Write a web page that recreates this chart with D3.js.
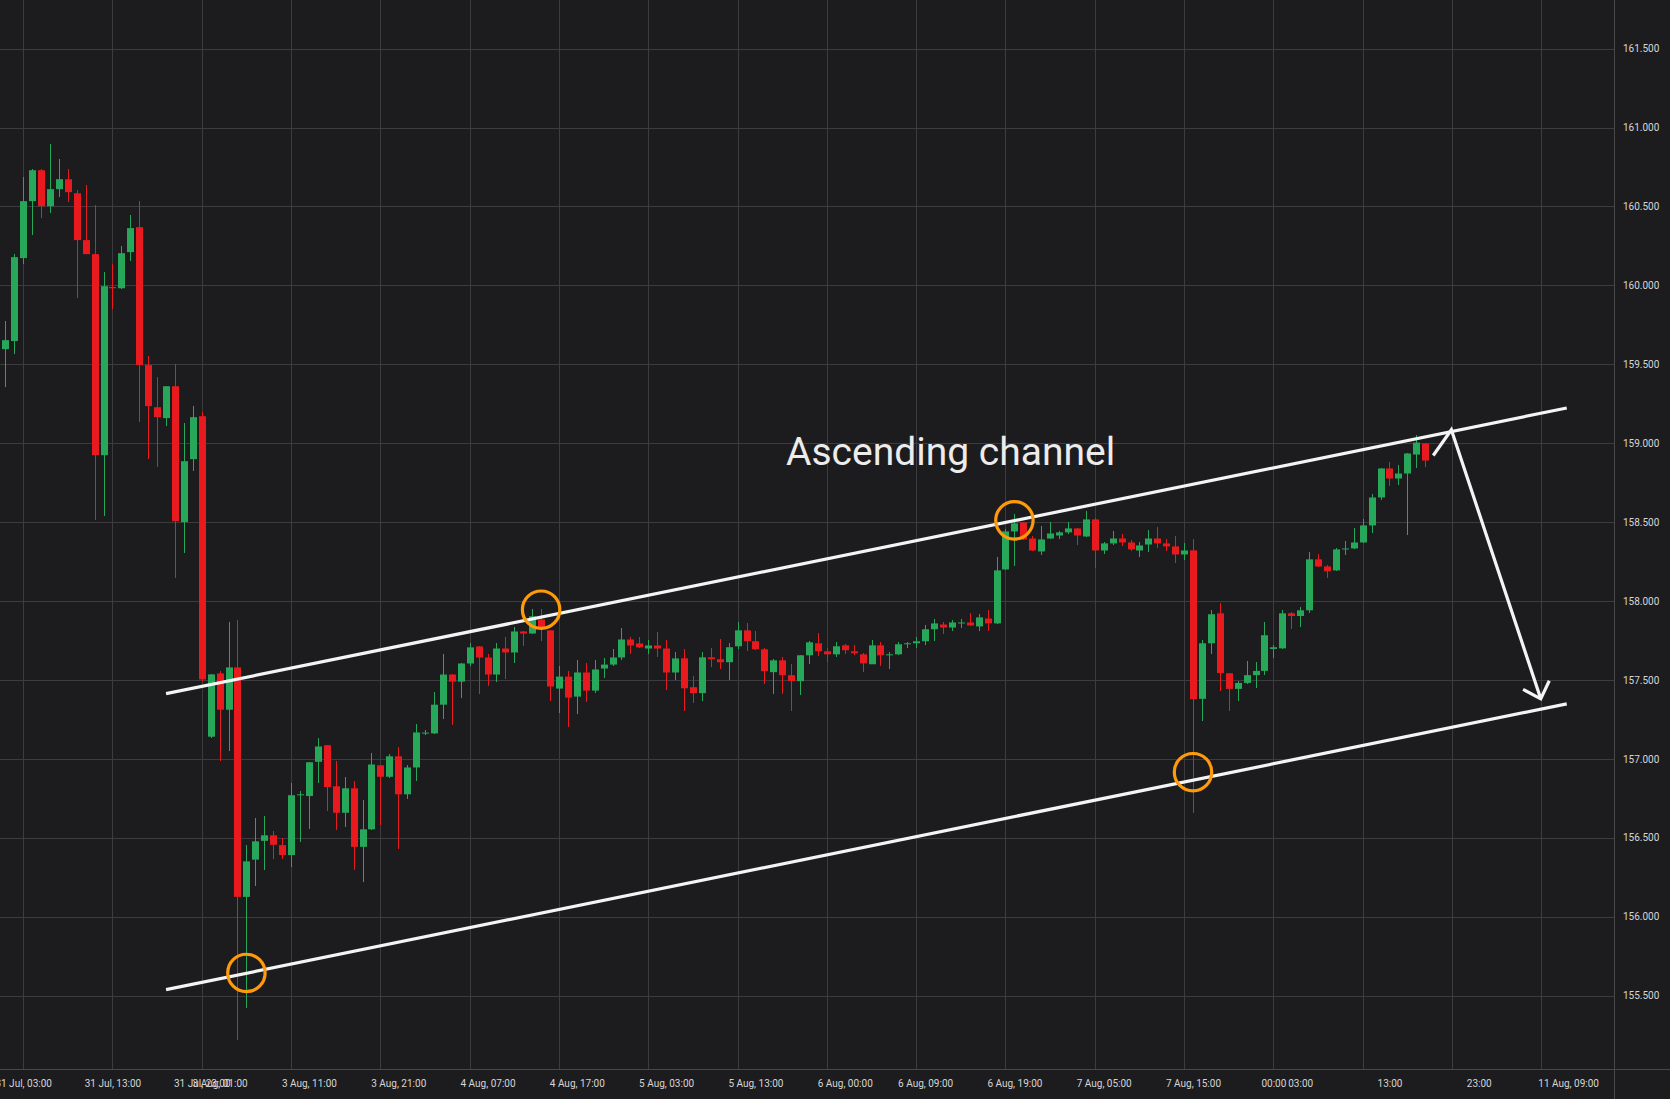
<!DOCTYPE html>
<html lang="en">
<head>
    <meta charset="UTF-8">
    <title>Ascending channel</title>
    <script src="https://d3js.org/d3.v7.min.js"></script>
    <style>
        html, body { margin: 0; padding: 0; background: #1c1c1e; }
        svg { display: block; }
    </style>
</head>
<body>
    <div id="chart"></div>

    <script>
        // Hourly candles, index 0..159
        var opens = [
            159.596, 159.647, 160.173, 160.534, 160.730, 160.502, 160.610, 160.673, 160.584, 160.287,
            160.198, 158.924, 159.990, 159.982, 160.211, 160.369, 159.495, 159.228, 159.159, 159.361,
            158.500, 158.899, 159.171, 157.140, 157.541, 157.311, 157.579, 156.125, 156.361, 156.480,
            156.515, 156.453, 156.390, 156.770, 156.764, 156.981, 157.086, 156.826, 156.658, 156.813,
            156.442, 156.553, 156.959, 156.886, 157.016, 156.775, 156.945, 157.160, 157.161, 157.343,
            157.534, 157.489, 157.604, 157.712, 157.642, 157.534, 157.699, 157.674, 157.807, 157.794,
            157.883, 157.814, 157.445, 157.521, 157.394, 157.547, 157.432, 157.572, 157.597, 157.642,
            157.756, 157.731, 157.699, 157.718, 157.699, 157.547, 157.637, 157.454, 157.416, 157.643,
            157.631, 157.612, 157.713, 157.814, 157.745, 157.694, 157.549, 157.624, 157.530, 157.492,
            157.656, 157.732, 157.681, 157.662, 157.719, 157.681, 157.662, 157.599, 157.719, 157.656,
            157.662, 157.726, 157.732, 157.745, 157.821, 157.851, 157.832, 157.858, 157.864, 157.839,
            157.889, 157.858, 158.200, 158.441, 158.498, 158.396, 158.314, 158.396, 158.415, 158.435,
            158.460, 158.409, 158.517, 158.320, 158.365, 158.396, 158.371, 158.320, 158.358, 158.396,
            158.365, 158.346, 158.295, 158.321, 157.380, 157.732, 157.922, 157.542, 157.443, 157.481,
            157.530, 157.557, 157.696, 157.700, 157.922, 157.905, 157.941, 158.264, 158.219, 158.194,
            158.327, 158.333, 158.371, 158.479, 158.656, 158.840, 158.776, 158.808, 158.928, 158.998
        ];
        var highs = [
            159.773, 160.202, 160.686, 160.737, 160.735, 160.895, 160.800, 160.737, 160.604, 160.635,
            160.508, 160.084, 160.135, 160.249, 160.445, 160.534, 159.552, 159.418, 159.365, 159.501,
            159.127, 159.235, 159.197, 157.540, 157.557, 157.866, 157.877, 156.453, 156.623, 156.637,
            156.542, 156.496, 156.845, 156.799, 156.982, 157.129, 157.090, 156.983, 156.886, 156.859,
            156.742, 157.035, 156.962, 157.029, 157.075, 156.959, 157.219, 157.180, 157.426, 157.661,
            157.538, 157.610, 157.737, 157.715, 157.667, 157.731, 157.769, 157.833, 157.810, 157.947,
            157.947, 157.815, 157.585, 157.559, 157.629, 157.610, 157.623, 157.636, 157.693, 157.826,
            157.769, 157.769, 157.756, 157.801, 157.750, 157.674, 157.694, 157.523, 157.675, 157.700,
            157.757, 157.732, 157.865, 157.859, 157.808, 157.700, 157.631, 157.643, 157.599, 157.660,
            157.745, 157.795, 157.700, 157.738, 157.726, 157.719, 157.669, 157.751, 157.738, 157.675,
            157.738, 157.738, 157.770, 157.846, 157.884, 157.870, 157.877, 157.883, 157.927, 157.915,
            157.940, 158.276, 158.454, 158.549, 158.500, 158.409, 158.473, 158.498, 158.441, 158.498,
            158.462, 158.568, 158.523, 158.377, 158.441, 158.422, 158.384, 158.377, 158.447, 158.466,
            158.390, 158.409, 158.365, 158.390, 157.751, 157.941, 157.985, 157.544, 157.494, 157.618,
            157.612, 157.865, 157.719, 157.941, 157.928, 157.960, 158.308, 158.295, 158.226, 158.333,
            158.378, 158.460, 158.517, 158.675, 158.846, 158.878, 158.865, 158.941, 159.055, 159.004
        ];
        var lows = [
            159.357, 159.564, 160.135, 160.318, 160.426, 160.458, 160.559, 160.527, 159.919, 160.198,
            158.512, 158.538, 159.849, 159.976, 160.154, 159.133, 158.899, 158.848, 159.108, 158.145,
            158.303, 158.823, 157.490, 157.130, 156.986, 157.051, 155.218, 155.421, 156.196, 156.296,
            156.366, 156.366, 156.312, 156.474, 156.556, 156.848, 156.669, 156.550, 156.569, 156.296,
            156.220, 156.547, 156.583, 156.878, 156.428, 156.745, 156.859, 157.150, 157.155, 157.250,
            157.216, 157.383, 157.585, 157.413, 157.464, 157.489, 157.508, 157.604, 157.712, 157.788,
            157.744, 157.369, 157.292, 157.203, 157.286, 157.362, 157.419, 157.515, 157.591, 157.629,
            157.667, 157.700, 157.667, 157.648, 157.439, 157.502, 157.302, 157.352, 157.365, 157.580,
            157.567, 157.498, 157.694, 157.681, 157.688, 157.473, 157.409, 157.409, 157.302, 157.403,
            157.599, 157.650, 157.612, 157.643, 157.662, 157.656, 157.549, 157.599, 157.586, 157.567,
            157.656, 157.700, 157.700, 157.719, 157.745, 157.788, 157.813, 157.826, 157.843, 157.813,
            157.813, 157.855, 158.198, 158.219, 158.385, 158.314, 158.289, 158.390, 158.396, 158.422,
            158.358, 158.407, 158.206, 158.301, 158.358, 158.346, 158.314, 158.276, 158.308, 158.333,
            158.314, 158.238, 158.257, 156.655, 157.239, 157.662, 157.430, 157.303, 157.367, 157.475,
            157.449, 157.532, 157.639, 157.694, 157.823, 157.835, 157.922, 158.213, 158.143, 158.188,
            158.289, 158.330, 158.368, 158.428, 158.637, 158.726, 158.732, 158.416, 158.840, 158.852
        ];
        var closes = [
            159.653, 160.179, 160.534, 160.730, 160.502, 160.610, 160.673, 160.591, 160.287, 160.198,
            158.924, 159.995, 159.982, 160.204, 160.363, 159.495, 159.235, 159.165, 159.361, 158.506,
            158.886, 159.165, 157.503, 157.535, 157.311, 157.579, 156.125, 156.350, 156.477, 156.515,
            156.455, 156.390, 156.769, 156.775, 156.978, 157.078, 156.821, 156.658, 156.813, 156.442,
            156.553, 156.964, 156.886, 157.016, 156.775, 156.945, 157.167, 157.166, 157.343, 157.534,
            157.489, 157.604, 157.706, 157.642, 157.534, 157.699, 157.674, 157.807, 157.794, 157.903,
            157.833, 157.458, 157.521, 157.388, 157.547, 157.432, 157.566, 157.597, 157.642, 157.756,
            157.718, 157.706, 157.718, 157.699, 157.547, 157.636, 157.447, 157.416, 157.643, 157.631,
            157.612, 157.707, 157.814, 157.745, 157.694, 157.555, 157.624, 157.530, 157.492, 157.656,
            157.738, 157.681, 157.662, 157.713, 157.688, 157.669, 157.605, 157.719, 157.656, 157.662,
            157.726, 157.732, 157.745, 157.821, 157.858, 157.832, 157.864, 157.864, 157.845, 157.896,
            157.858, 158.194, 158.441, 158.492, 158.390, 158.320, 158.390, 158.428, 158.435, 158.460,
            158.415, 158.517, 158.320, 158.365, 158.396, 158.371, 158.327, 158.352, 158.396, 158.365,
            158.346, 158.295, 158.320, 157.378, 157.732, 157.916, 157.544, 157.443, 157.481, 157.530,
            157.557, 157.783, 157.707, 157.922, 157.905, 157.941, 158.264, 158.219, 158.188, 158.327,
            158.333, 158.371, 158.479, 158.656, 158.840, 158.776, 158.808, 158.935, 159.004, 158.890
        ];

        // Axis ticks
        var priceTicks = [155.5, 156.0, 156.5, 157.0, 157.5, 158.0, 158.5, 159.0, 159.5, 160.0, 160.5, 161.0, 161.5];
        var gridIndices = d3.range(2, 180, 10);
        var timeTickIndex = [2, 12, 22, 24, 34, 44, 54, 64, 74, 84, 94, 103, 113, 123, 133, 142, 145, 155, 165, 175];
        var timeTickLabels = [
            "31 Jul, 03:00", "31 Jul, 13:00", "31 Jul, 23:00", "3 Aug, 01:00", "3 Aug, 11:00",
            "3 Aug, 21:00", "4 Aug, 07:00", "4 Aug, 17:00", "5 Aug, 03:00", "5 Aug, 13:00",
            "6 Aug, 00:00", "6 Aug, 09:00", "6 Aug, 19:00", "7 Aug, 05:00", "7 Aug, 15:00",
            "00:00", "03:00", "13:00", "23:00", "11 Aug, 09:00"
        ];

        // Annotations, in [candle index, price]
        var upperChannel = [[18.0, 157.413], [174.85, 159.223]];
        var lowerChannel = [[18.0, 155.537], [174.85, 157.348]];
        var touchPoints = [[27, 155.643], [60, 157.945], [113, 158.511], [133, 156.915]];
        var arrowPath = [[159.9, 158.922], [161.93, 159.085], [171.94, 157.380]];
        var noteText = "Ascending channel";
        var notePos = [105.85, 158.862];

        var width = 1670, height = 1099;
        var plotRight = 1614, plotBottom = 1069;

        var svg = d3.select("#chart")
            .append("svg")
            .attr("width", width)
            .attr("height", height)
            .style("font-family", "Roboto, sans-serif");

        svg.append("rect")
            .attr("width", width)
            .attr("height", height)
            .attr("fill", "#1c1c1e");

        var x = d3.scaleLinear()
            .domain([0, 159])
            .range([5.3, 1425.2]);

        var y = d3.scaleLinear()
            .domain([155.5, 161.5])
            .range([995.5, 48.7]);

        // Grid
        var grid = svg.append("g")
            .attr("stroke", "#3c3c3f")
            .attr("stroke-width", 1)
            .attr("shape-rendering", "crispEdges");

        grid.selectAll(".vgrid")
            .data(gridIndices.filter(function (d) { return x(d) < plotRight; }))
            .enter()
            .append("line")
            .attr("x1", function (d) { return Math.round(x(d)) + 0.5; })
            .attr("x2", function (d) { return Math.round(x(d)) + 0.5; })
            .attr("y1", 0)
            .attr("y2", plotBottom);

        grid.selectAll(".hgrid")
            .data(priceTicks)
            .enter()
            .append("line")
            .attr("x1", 0)
            .attr("x2", plotRight)
            .attr("y1", function (d) { return Math.round(y(d)) + 0.5; })
            .attr("y2", function (d) { return Math.round(y(d)) + 0.5; });

        // Separators
        svg.append("line")
            .attr("x1", plotRight + 0.5).attr("x2", plotRight + 0.5)
            .attr("y1", 0).attr("y2", height)
            .attr("stroke", "#48484b")
            .attr("shape-rendering", "crispEdges");

        svg.append("line")
            .attr("x1", 0).attr("x2", width)
            .attr("y1", plotBottom + 0.5).attr("y2", plotBottom + 0.5)
            .attr("stroke", "#48484b")
            .attr("shape-rendering", "crispEdges");

        // Candles
        var up = "#27a75a", down = "#e81a1d";
        var bodyWidth = 7;

        var candles = svg.append("g")
            .selectAll("g")
            .data(d3.range(opens.length))
            .enter()
            .append("g")
            .attr("fill", function (i) { return closes[i] >= opens[i] ? up : down; })
            .attr("stroke", function (i) { return closes[i] >= opens[i] ? up : down; });

        candles.append("line")
            .attr("x1", function (i) { return Math.round(x(i)) + 0.5; })
            .attr("x2", function (i) { return Math.round(x(i)) + 0.5; })
            .attr("y1", function (i) { return y(highs[i]); })
            .attr("y2", function (i) { return y(lows[i]); })
            .attr("stroke-width", 1)
            .attr("shape-rendering", "crispEdges");

        candles.append("rect")
            .attr("x", function (i) { return Math.round(x(i)) + 0.5 - bodyWidth / 2; })
            .attr("y", function (i) { return y(Math.max(opens[i], closes[i])); })
            .attr("width", bodyWidth)
            .attr("height", function (i) {
                return Math.max(1, Math.abs(y(opens[i]) - y(closes[i])));
            })
            .attr("stroke", "none");

        // Channel lines
        var line = d3.line()
            .x(function (d) { return x(d[0]); })
            .y(function (d) { return y(d[1]); });

        [upperChannel, lowerChannel].forEach(function (pts) {
            svg.append("path")
                .attr("d", line(pts))
                .attr("fill", "none")
                .attr("stroke", "#f4f4f4")
                .attr("stroke-width", 3.2);
        });

        // Touch points
        svg.selectAll(".touch")
            .data(touchPoints)
            .enter()
            .append("circle")
            .attr("cx", function (d) { return x(d[0]); })
            .attr("cy", function (d) { return y(d[1]); })
            .attr("r", 18.7)
            .attr("fill", "none")
            .attr("stroke", "#ff9a0a")
            .attr("stroke-width", 3.2);

        // Arrow
        svg.append("path")
            .attr("d", line(arrowPath))
            .attr("fill", "none")
            .attr("stroke", "#f4f4f4")
            .attr("stroke-width", 3.2)
            .attr("stroke-linejoin", "miter");

        var tip = arrowPath[arrowPath.length - 1], prev = arrowPath[arrowPath.length - 2];
        var tx = x(tip[0]), ty = y(tip[1]);
        var back = Math.atan2(y(prev[1]) - ty, x(prev[0]) - tx);
        var headLen = 20, headAngle = 43.6 * Math.PI / 180;
        var head = [
            [tx + headLen * Math.cos(back - headAngle), ty + headLen * Math.sin(back - headAngle)],
            [tx, ty],
            [tx + headLen * Math.cos(back + headAngle), ty + headLen * Math.sin(back + headAngle)]
        ];
        svg.append("path")
            .attr("d", d3.line()(head))
            .attr("fill", "none")
            .attr("stroke", "#f4f4f4")
            .attr("stroke-width", 3.2)
            .attr("stroke-linejoin", "miter");

        // Note
        svg.append("text")
            .attr("x", x(notePos[0]))
            .attr("y", y(notePos[1]))
            .attr("text-anchor", "middle")
            .attr("fill", "#ececec")
            .style("font-size", "39px")
            .text(noteText);

        // Price axis
        var yAxis = svg.append("g")
            .attr("transform", "translate(" + plotRight + ",0)")
            .call(d3.axisRight(y)
                .tickValues(priceTicks)
                .tickFormat(d3.format(".3f"))
                .tickSize(0)
                .tickPadding(9));
        yAxis.select(".domain").remove();
        yAxis.selectAll("text")
            .attr("fill", "#d6d6d6")
            .style("font-family", "Roboto, sans-serif")
            .style("font-size", "10px");

        // Time axis
        var xAxis = svg.append("g")
            .attr("transform", "translate(0," + plotBottom + ")")
            .call(d3.axisBottom(x)
                .tickValues(timeTickIndex)
                .tickFormat(function (d, i) { return timeTickLabels[i]; })
                .tickSize(0)
                .tickPadding(11));
        xAxis.select(".domain").remove();
        xAxis.selectAll("text")
            .attr("fill", "#d6d6d6")
            .style("font-family", "Roboto, sans-serif")
            .style("font-size", "10px");
    </script>
</body>
</html>
